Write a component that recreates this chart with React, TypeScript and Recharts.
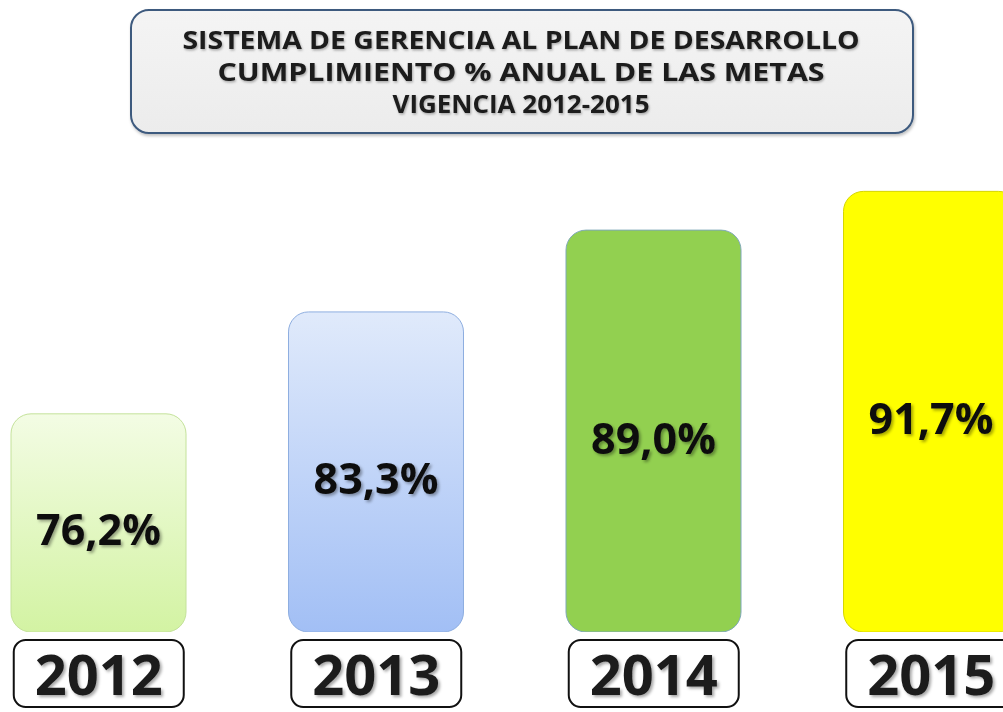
import React from 'react';
import { BarChart, Bar, XAxis, YAxis, Cell, LabelList } from 'recharts';

const years = ['2012', '2013', '2014', '2015'];
const cumplimiento = [76.2, 83.3, 89.0, 91.7];
const valueLabels = ['76,2%', '83,3%', '89,0%', '91,7%'];
const titleLines = [
  'SISTEMA DE GERENCIA AL PLAN DE DESARROLLO',
  'CUMPLIMIENTO % ANUAL DE  LAS METAS',
  'VIGENCIA 2012-2015',
];
const titleWidths = [677, 607, 257];

const barFills = ['url(#g2012)', 'url(#g2013)', '#92d050', '#ffff00'];
const barStrokes = ['#c4e29a', '#8eaee0', '#7fa8b8', '#d6d600'];

const data = years.map((y, i) => ({ year: y, value: cumplimiento[i], label: valueLabels[i] }));

const FONT = "'Open Sans', 'DejaVu Sans', sans-serif";

const YearTick = (props: any) => {
  const { x, y, payload } = props;
  return (
    <g transform={`translate(${x},${y})`}>
      <rect x={-85} y={8} width={170} height={67} rx={12} ry={12} fill="#ffffff" stroke="#111111" strokeWidth={2} />
      <text x={0} y={63} textAnchor="middle" fontFamily={FONT} fontWeight={700} fontSize={56} fill="#1a1a1a" filter="url(#txtShadow)">
        {payload.value}
      </text>
    </g>
  );
};

const ValueLabel = (props: any) => {
  const { x, y, width, height, value } = props;
  return (
    <text
      x={x + width / 2}
      y={y + height / 2 + 6}
      textAnchor="middle"
      dominantBaseline="central"
      fontFamily={FONT}
      fontWeight={700}
      fontSize={43}
      fill="#111111"
      filter="url(#txtShadow)"
    >
      {value}
    </text>
  );
};

export default function App() {
  return (
    <div style={{ position: 'fixed', left: 0, top: 0, width: 1003, height: 712, overflow: 'hidden', background: '#ffffff' }}>
      <svg width={1003} height={145} style={{ position: 'absolute', left: 0, top: 0 }}>
        <defs>
          <linearGradient id="titleGrad" x1="0" y1="0" x2="0" y2="1">
            <stop offset="0%" stopColor="#f4f4f4" />
            <stop offset="100%" stopColor="#ececec" />
          </linearGradient>
          <filter id="titleShadow" x="-10%" y="-10%" width="120%" height="130%">
            <feDropShadow dx="1" dy="2" stdDeviation="1.5" floodColor="#000" floodOpacity="0.25" />
          </filter>
          <filter id="titleTxtShadow" x="-5%" y="-20%" width="110%" height="150%">
            <feDropShadow dx="1" dy="1.5" stdDeviation="1" floodColor="#000" floodOpacity="0.3" />
          </filter>
        </defs>
        <rect x={131} y={10} width={782} height={123} rx={18} ry={18} fill="url(#titleGrad)" stroke="#3e5a7e" strokeWidth={2} filter="url(#titleShadow)" />
        {titleLines.map((t, i) => (
          <text
            key={i}
            x={521}
            y={49 + i * 32}
            textAnchor="middle"
            textLength={titleWidths[i]}
            lengthAdjust="spacingAndGlyphs"
            fontFamily={FONT}
            fontWeight={700}
            fontSize={25}
            fill="#1a1a1a"
            filter="url(#titleTxtShadow)"
          >
            {t}
          </text>
        ))}
      </svg>
      <div style={{ position: 'absolute', left: -40, top: 0 }}>
        <BarChart width={1110} height={712} data={data} margin={{ top: 144, right: 0, bottom: 0, left: 0 }} barCategoryGap={0}>
          <defs>
            <linearGradient id="g2012" x1="0" y1="0" x2="0" y2="1">
              <stop offset="0%" stopColor="#f3fce4" />
              <stop offset="100%" stopColor="#d3f3a3" />
            </linearGradient>
            <linearGradient id="g2013" x1="0" y1="0" x2="0" y2="1">
              <stop offset="0%" stopColor="#e0eafb" />
              <stop offset="100%" stopColor="#a2bff5" />
            </linearGradient>
            <filter id="txtShadow" x="-10%" y="-20%" width="130%" height="150%">
              <feDropShadow dx="2" dy="2" stdDeviation="1.5" floodColor="#000" floodOpacity="0.35" />
            </filter>
          </defs>
          <XAxis dataKey="year" axisLine={false} tickLine={false} tickSize={0} tickMargin={0} height={80} tick={<YearTick />} interval={0} />
          <YAxis hide domain={[61, 95]} allowDataOverflow />
          <Bar dataKey="value" barSize={175} radius={[20, 20, 20, 20]} isAnimationActive={false}>
            {data.map((d, i) => (
              <Cell key={d.year} fill={barFills[i]} stroke={barStrokes[i]} strokeWidth={1} />
            ))}
            <LabelList dataKey="label" content={<ValueLabel />} />
          </Bar>
        </BarChart>
      </div>
    </div>
  );
}
